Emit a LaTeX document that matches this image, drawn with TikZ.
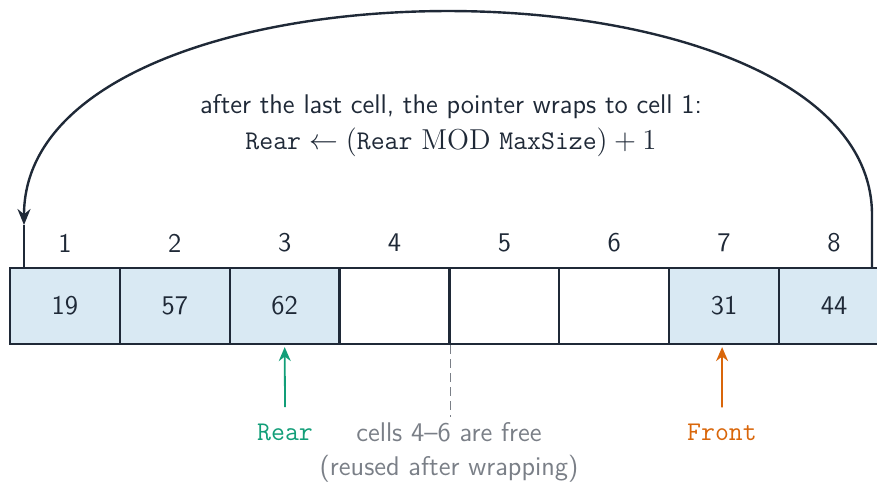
\documentclass[tikz,border=0pt]{standalone}
\usetikzlibrary{arrows.meta}
\definecolor{ink}{HTML}{1F2937}
\definecolor{cellfill}{HTML}{D9E9F3}
\definecolor{reargreen}{HTML}{129E78}
\definecolor{frontorange}{HTML}{D9660A}
\definecolor{note}{HTML}{7A7F87}
\begin{document}
\begin{tikzpicture}[x=0.5pt,y=-0.5pt,
  font=\sffamily\fontsize{13.5}{16}\selectfont,
  cellbox/.style={draw=ink,line width=1.1pt,minimum width=54.93pt,minimum height=38pt,inner sep=0pt,text=ink},
  fullcell/.style={cellbox,fill=cellfill},
  idx/.style={text=ink,inner sep=0pt},
  ptr/.style={line width=0.9pt,-{Stealth[length=7pt,width=6pt]}},
  wrap/.style={draw=ink,line width=1.2pt}]
\useasboundingbox (0,0) rectangle (877,484);
% cells
\node[fullcell] (c1) at (64.9,306) {19};
\node[fullcell] (c2) at (174.8,306) {57};
\node[fullcell] (c3) at (284.7,306) {62};
\node[cellbox]  (c4) at (394.5,306) {};
\node[cellbox]  (c5) at (504.4,306) {};
\node[cellbox]  (c6) at (614.3,306) {};
\node[fullcell] (c7) at (724.1,306) {31};
\node[fullcell] (c8) at (834.0,306) {44};
% indices
\foreach \i in {1,...,8} {
  \node[idx] (i\i) at ([yshift=31.5pt]c\i.center) {\i};
}
% wrap-around arrow
\coordinate (wstart) at (872,268);
\coordinate (wup) at (872,215);
\coordinate (wtip) at (24,225);
\coordinate (wend) at (24,268);
\draw[wrap,-{Stealth[length=8pt,width=6.5pt]}] (wstart) -- (wup) .. controls (872,-57) and (24,-57) .. (wtip);
\draw[wrap] (wtip) -- (wend);
% caption
\node[text=ink,align=center,inner sep=0pt] (cap) at (451,126)
  {after the last cell, the pointer wraps to cell 1:\\[2pt]
   $\texttt{Rear} \leftarrow (\texttt{Rear}\ \mathrm{MOD}\ \texttt{MaxSize}) + 1$};
% pointers
\node[text=reargreen,font=\ttfamily\fontsize{13.5}{16}\selectfont,inner sep=0pt] (rear) at (285,432) {Rear};
\node[text=frontorange,font=\ttfamily\fontsize{13.5}{16}\selectfont,inner sep=0pt] (front) at (722,432) {Front};
\draw[ptr,draw=reargreen,fill=reargreen] ([yshift=8pt]rear.north) -- ([yshift=-1pt]c3.south);
\draw[ptr,draw=frontorange,fill=frontorange] ([yshift=8pt]front.north) -- ([xshift=-1pt,yshift=-1pt]c7.south);
% free cells note
\node[text=note,align=center,inner sep=0pt] (free) at (449,452)
  {cells 4--6 are free\\[1pt](reused after wrapping)};
\coordinate (dtop) at (c4.south east);
\draw[note,line width=0.9pt,dash pattern=on 4.5pt off 2.5pt] (dtop) -- ([yshift=-36pt]dtop);
\end{tikzpicture}
\end{document}
